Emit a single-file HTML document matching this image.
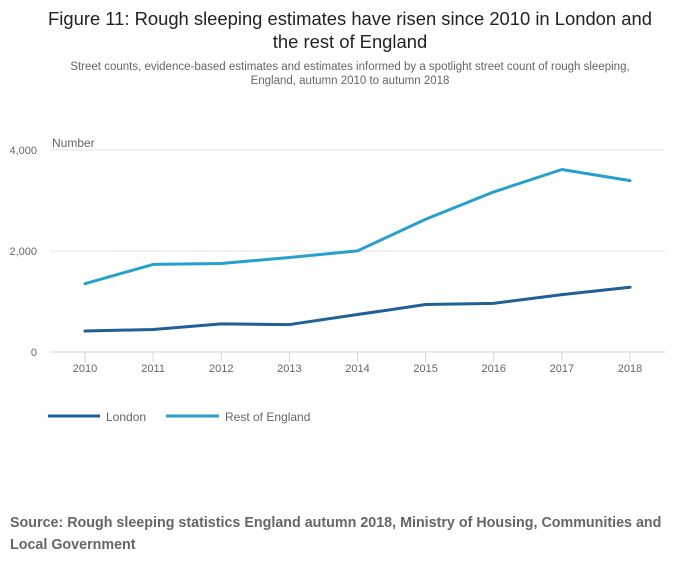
<!DOCTYPE html>
<html><head><meta charset="utf-8"><style>
body{margin:0;background:#fff;font-family:"Liberation Sans",sans-serif;}
#wrap{position:relative;width:700px;height:574px;overflow:hidden;}
.t{position:absolute;left:0;width:700px;text-align:center;}
</style></head><body>
<div id="wrap">
<div class="t" style="top:7px;font-size:18.4px;line-height:23px;color:#222;">Figure 11: Rough sleeping estimates have risen since 2010 in London and<br>the rest of England</div>
<div class="t" style="top:60px;font-size:11.5px;line-height:14px;color:#666;">Street counts, evidence-based estimates and estimates informed by a spotlight street count of rough sleeping,<br>England, autumn 2010 to autumn 2018</div>
<svg id="chart" width="700" height="460" style="position:absolute;left:0;top:0"></svg>
<div style="position:absolute;left:10px;top:512px;font-size:14.3px;line-height:22px;font-weight:bold;color:#666;white-space:nowrap;">Source: Rough sleeping statistics England autumn 2018, Ministry of Housing, Communities and<br>Local Government</div>
</div>
<script>
const years=["2010","2011","2012","2013","2014","2015","2016","2017","2018"];
const london=[415,446,557,543,742,940,964,1137,1283];
const restOfEngland=[1353,1735,1752,1871,2002,2629,3170,3614,3394];
const yTicks=[0,2000,4000];
const yTickLabels=["0","2,000","4,000"];
const NS="http://www.w3.org/2000/svg";
const svg=document.getElementById('chart');
function X(i){return 85+i*(630-85)/(years.length-1);}
function Y(v){return 352-v*(352-150)/4000;}
function mk(t,a){const e=document.createElementNS(NS,t);for(const k in a)e.setAttribute(k,a[k]);svg.appendChild(e);return e;}
yTicks.forEach((v,i)=>{
 const g=mk('line',{x1:50,x2:665,y1:Y(v),y2:Y(v),stroke:i==0?'#ccd6eb':'#e6e6e6','stroke-width':1});
 
 
 const t=mk('text',{x:37,y:Y(v)+4,'text-anchor':'end','font-size':11,fill:'#666'});
 t.textContent=yTickLabels[i];
 
 
});
const yt=mk('text',{x:52,y:147,'font-size':12,fill:'#666'});yt.textContent='Number';


years.forEach((y,i)=>{
 const tk=mk('line',{x1:X(i),x2:X(i),y1:352,y2:362,stroke:'#ccd6eb'});
 
 
 const t=mk('text',{x:X(i),y:372,'text-anchor':'middle','font-size':11,fill:'#666'});t.textContent=y;
 
 
});
function series(vals,color,name){
 const p=mk('polyline',{points:vals.map((v,i)=>X(i)+','+Y(v)).join(' '),fill:'none',stroke:color,'stroke-width':3,'stroke-linejoin':'round','stroke-linecap':'round'});
 
 
}
series(restOfEngland,'#27a0cc','rest-of-england-line');
series(london,'#206095','london-line');
const l1=mk('line',{x1:48,x2:100,y1:416,y2:416,stroke:'#206095','stroke-width':3});


const lt1=mk('text',{x:106,y:421,'font-size':12,fill:'#666'});lt1.textContent='London';


const l2=mk('line',{x1:166,x2:219,y1:416,y2:416,stroke:'#27a0cc','stroke-width':3});


const lt2=mk('text',{x:225,y:421,'font-size':12,fill:'#666'});lt2.textContent='Rest of England';


</script>
</body></html>
